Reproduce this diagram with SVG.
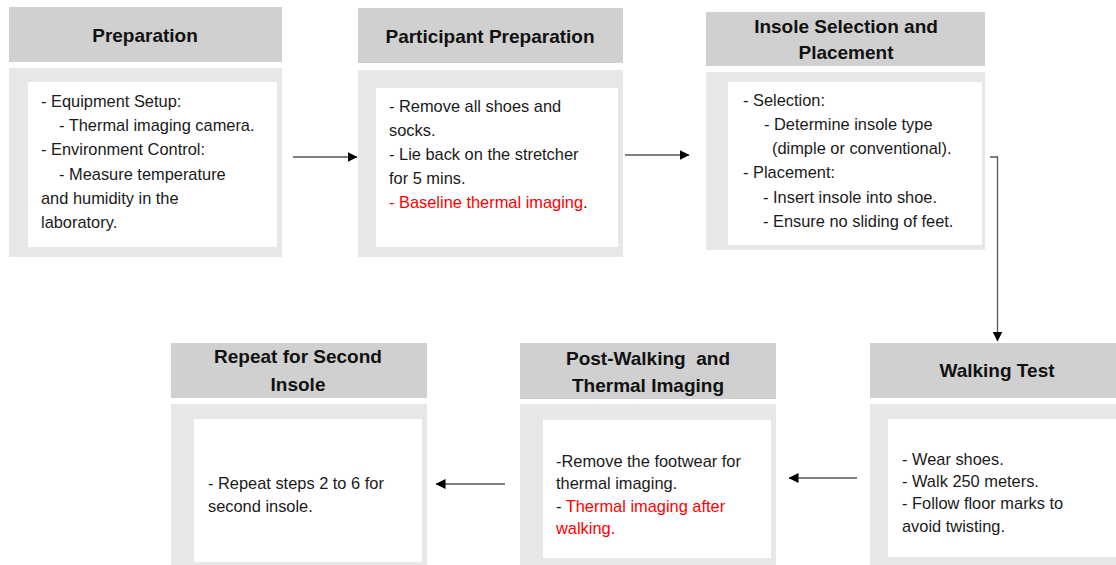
<svg xmlns="http://www.w3.org/2000/svg" width="1116" height="565" viewBox="0 0 1116 565">
<defs>
<style>
.hd{fill:#d0d0d0}
.bd{fill:#e7e7e7}
.wt{fill:#ffffff}
.ht{font-family:"Liberation Sans",Arial,sans-serif;font-weight:bold;font-size:19px;fill:#111;text-anchor:middle}
.tx{font-family:"Liberation Sans",Arial,sans-serif;font-size:16.4px;fill:#1a1a1a}
.red{fill:#ff0000}
.cn{stroke:#555;stroke-width:1.3;fill:none}
</style>
<marker id="ah" viewBox="0 0 10 10" refX="9.5" refY="5" markerWidth="10" markerHeight="10" markerUnits="userSpaceOnUse" orient="auto">
<path d="M0,0 L10,5 L0,10 Z" fill="#000"/>
</marker>
</defs>
<rect width="1116" height="565" fill="#fff"/>

<g id="n1">
<rect class="hd" x="9" y="7" width="273" height="55"/>
<rect class="bd" x="9" y="68" width="273" height="189"/>
<rect class="wt" x="28" y="82" width="249" height="165"/>
<text class="ht" x="145" y="42">Preparation</text>
<text class="tx" x="41" y="107">- Equipment Setup:</text>
<text class="tx" x="59" y="131">- Thermal imaging camera.</text>
<text class="tx" x="41" y="155">- Environment Control:</text>
<text class="tx" x="59" y="180">- Measure temperature</text>
<text class="tx" x="41" y="204">and humidity in the</text>
<text class="tx" x="41" y="228">laboratory.</text>
</g>

<g id="n2">
<rect class="hd" x="358" y="8" width="265" height="55"/>
<rect class="bd" x="358" y="70" width="265" height="187"/>
<rect class="wt" x="376" y="88" width="242" height="159"/>
<text class="ht" x="490" y="43">Participant Preparation</text>
<text class="tx" x="389" y="112">- Remove all shoes and</text>
<text class="tx" x="389" y="136">socks.</text>
<text class="tx" x="389" y="160">- Lie back on the stretcher</text>
<text class="tx" x="389" y="184">for 5 mins.</text>
<text class="tx" x="389" y="208"><tspan class="red">- Baseline thermal imaging</tspan>.</text>
</g>

<g id="n3">
<rect class="hd" x="706" y="12" width="279" height="54"/>
<rect class="bd" x="706" y="72" width="279" height="178"/>
<rect class="wt" x="728" y="82" width="254" height="163"/>
<text class="ht" x="846" y="33">Insole Selection and</text>
<text class="ht" x="846" y="59">Placement</text>
<text class="tx" x="743" y="106">- Selection:</text>
<text class="tx" x="764" y="130">- Determine insole type</text>
<text class="tx" x="772" y="154">(dimple or conventional).</text>
<text class="tx" x="743" y="178">- Placement:</text>
<text class="tx" x="763" y="203">- Insert insole into shoe.</text>
<text class="tx" x="763" y="227">- Ensure no sliding of feet.</text>
</g>

<g id="n4">
<rect class="hd" x="870" y="343" width="246" height="55"/>
<rect class="bd" x="870" y="404" width="246" height="161"/>
<rect class="wt" x="888" y="419" width="228" height="138"/>
<text class="ht" x="997" y="377">Walking Test</text>
<text class="tx" x="902" y="465">- Wear shoes.</text>
<text class="tx" x="902" y="487">- Walk 250 meters.</text>
<text class="tx" x="902" y="509">- Follow floor marks to</text>
<text class="tx" x="902" y="532">avoid twisting.</text>
</g>

<g id="n5">
<rect class="hd" x="520" y="343" width="256" height="56"/>
<rect class="bd" x="520" y="404" width="256" height="161"/>
<rect class="wt" x="543" y="420" width="228" height="138"/>
<text class="ht" x="648" y="365" xml:space="preserve">Post-Walking  and</text>
<text class="ht" x="648" y="392">Thermal Imaging</text>
<text class="tx" x="556" y="467">-Remove the footwear for</text>
<text class="tx" x="556" y="489">thermal imaging.</text>
<text class="tx" x="556" y="512">- <tspan class="red">Thermal imaging after</tspan></text>
<text class="tx red" x="556" y="534">walking.</text>
</g>

<g id="n6">
<rect class="hd" x="171" y="343" width="256" height="55"/>
<rect class="bd" x="171" y="404" width="256" height="161"/>
<rect class="wt" x="194" y="419" width="228" height="143"/>
<text class="ht" x="298" y="363">Repeat for Second</text>
<text class="ht" x="298" y="391">Insole</text>
<text class="tx" x="208" y="489">- Repeat steps 2 to 6 for</text>
<text class="tx" x="208" y="512">second insole.</text>
</g>

<g id="connectors">
<path class="cn" d="M293,157 H357" marker-end="url(#ah)"/>
<path class="cn" d="M625,155 H689" marker-end="url(#ah)"/>
<path class="cn" d="M990,157 H997.5 V341" marker-end="url(#ah)"/>
<path class="cn" d="M857,478 H789" marker-end="url(#ah)"/>
<path class="cn" d="M505,484 H436" marker-end="url(#ah)"/>
</g>
</svg>
